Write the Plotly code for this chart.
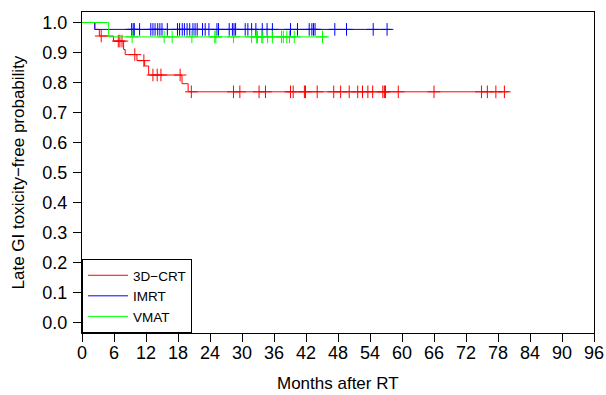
import plotly.graph_objects as go

# ---------------- data ----------------
crt_event_times = [0, 2.4, 3.25, 5.9, 7.8, 8.1, 10.3, 11.75, 12.5, 18.75, 19.9]
crt_survival = [1.0, 0.977, 0.955, 0.938, 0.910, 0.893, 0.873, 0.855, 0.825, 0.796, 0.769]
crt_end = 80.0
crt_censor = [3.6, 6.8, 7.1, 7.5, 9.9, 11.6, 13.3, 14.1, 14.8, 18.4, 20.5,
              28.4, 29.6, 33.2, 34.4, 39.1, 39.6, 41.7, 41.9, 44.1, 47.2, 48.5,
              50.1, 51.7, 52.6, 53.6, 54.5, 56.4, 56.7, 56.9, 59.3, 66.0, 74.9,
              76.0, 77.6, 79.2]

imrt_event_times = [0, 2.4]
imrt_survival = [1.0, 0.977]
imrt_end = 58.0
imrt_censor = [9.3, 9.6, 9.8, 10.8, 12.9, 13.3, 13.7, 14.2, 14.6, 15.0, 16.0,
               17.9, 18.3, 18.8, 19.2, 19.7, 20.2, 20.8, 21.2, 21.6, 22.6, 23.1,
               23.8, 25.3, 25.6, 27.6, 28.2, 28.5, 28.8, 30.6, 31.1, 31.8, 32.6,
               33.8, 34.7, 35.7, 39.1, 40.4, 42.6, 43.1, 43.4, 43.7, 47.4, 49.6,
               54.6, 57.2]

vmat_event_times = [0, 5.0]
vmat_survival = [1.0, 0.952]
vmat_end = 46.0
vmat_censor = [9.4, 15.4, 16.9, 20.6, 24.9, 25.1, 28.4, 31.8, 32.75, 32.9, 33.7,
               33.9, 34.8, 35.7, 37.4, 37.75, 38.4, 38.9, 39.8, 45.1]

x_ticks = list(range(0, 97, 6))
y_ticks = [i / 10 for i in range(0, 11)]
y_tick_labels = [f"{v:.1f}" for v in y_ticks]

x_title = "Months after RT"
y_title = "Late GI toxicity\u2212free probability"

series = [
    ("3D\u2212CRT", "#FF0000", crt_event_times, crt_survival, crt_end, crt_censor),
    ("IMRT", "#0000FF", imrt_event_times, imrt_survival, imrt_end, imrt_censor),
    ("VMAT", "#00FF00", vmat_event_times, vmat_survival, vmat_end, vmat_censor),
]


def surv_at(t, times, surv):
    s = surv[0]
    for ti, si in zip(times, surv):
        if ti <= t:
            s = si
    return s


fig = go.Figure()
for name, color, times, surv, end, cens in series:
    fig.add_trace(go.Scatter(
        x=list(times) + [end], y=list(surv) + [surv[-1]],
        mode="lines", line=dict(color=color, width=1, shape="hv"),
        name=name, showlegend=True,
    ))
    fig.add_trace(go.Scatter(
        x=cens, y=[surv_at(c, times, surv) for c in cens],
        mode="markers",
        marker=dict(symbol="cross-thin", size=9, line=dict(color=color, width=1)),
        showlegend=False, hoverinfo="skip",
    ))

font_family = "Liberation Sans, Arial, Helvetica, sans-serif"

fig.update_layout(
    width=606, height=395,
    margin=dict(l=82, r=12, t=12, b=62, autoexpand=False),
    paper_bgcolor="white", plot_bgcolor="white",
    font=dict(family=font_family, size=17, color="black"),
    showlegend=True,
    legend=dict(
        x=0, y=0, xanchor="left", yanchor="bottom",
        bgcolor="white", bordercolor="black", borderwidth=1,
        font=dict(size=13.5), itemwidth=40, tracegroupgap=0,
    ),
    xaxis=dict(
        range=[0, 96], tickmode="array", tickvals=x_ticks,
        ticks="outside", ticklen=8, tickwidth=1, tickcolor="black",
        showline=True, linecolor="black", linewidth=1, mirror=True,
        showgrid=False, zeroline=False, automargin=False,
        tickfont=dict(size=18), ticklabelstandoff=-5,
        ticklabeloverflow="allow",
    ),
    yaxis=dict(
        range=[-0.035, 1.035], tickmode="array", tickvals=y_ticks,
        ticktext=y_tick_labels,
        ticks="outside", ticklen=8, tickwidth=1, tickcolor="black",
        showline=True, linecolor="black", linewidth=1, mirror=True,
        showgrid=False, zeroline=False, automargin=False,
        tickfont=dict(size=18), ticklabelstandoff=2,
    ),
    annotations=[
        dict(text=x_title, xref="paper", yref="paper", x=0.5, y=0,
             xanchor="center", yanchor="middle", yshift=-50, showarrow=False,
             font=dict(size=17)),
        dict(text=y_title, xref="paper", yref="paper", x=0, y=0.5,
             xanchor="center", yanchor="middle", xshift=-64, textangle=-90,
             showarrow=False, font=dict(size=17)),
    ],
)

fig.write_html(
    "out.html",
    config={"displayModeBar": False},
    post_script="document.documentElement.style.overflow='hidden';"
                "document.body.style.margin='0';"
                "document.body.style.overflow='hidden';",
)
